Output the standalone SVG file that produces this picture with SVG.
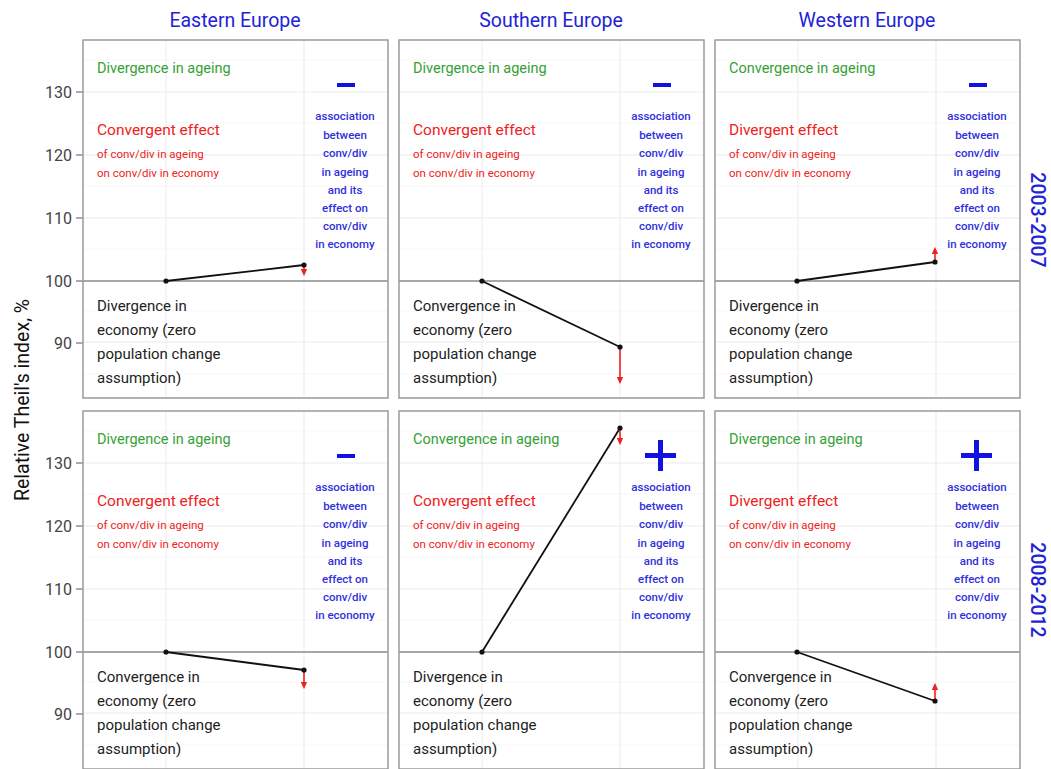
<svg xmlns="http://www.w3.org/2000/svg" width="1051" height="769" viewBox="0 0 1051 769">
<defs>
<marker id="ah" viewBox="0 0 10 10" refX="7" refY="5" markerWidth="7" markerHeight="7" orient="auto-start-reverse" markerUnits="userSpaceOnUse">
<path d="M0,0.5 L10,5 L0,9.5 z" fill="#ee2020"/>
</marker>
<style>
.bg{fill:#fff;stroke:none}
.frame{fill:none;stroke:#9a9a9a;stroke-width:1.5}
.gmaj{stroke:#ebebeb;stroke-width:1}
.gmin{stroke:#f5f5f5;stroke-width:0.8}
.ref{stroke:#8a8a8a;stroke-width:1.6}
.tick{stroke:#555;stroke-width:1}
.tl{font-family:Roboto,"Liberation Sans",sans-serif;font-size:16px;fill:#444;text-anchor:end}
.title{font-family:Roboto,"Liberation Sans",sans-serif;font-size:19.5px;fill:#2323d6;text-anchor:middle}
.strip{font-family:Roboto,"Liberation Sans",sans-serif;font-size:19.5px;font-weight:500;fill:#2323d6;text-anchor:middle}
.axt{font-family:Roboto,"Liberation Sans",sans-serif;font-size:19.5px;fill:#111;text-anchor:middle}
.grn{font-family:Roboto,"Liberation Sans",sans-serif;font-size:14.5px;fill:#35a035}
.red1{font-family:Roboto,"Liberation Sans",sans-serif;font-size:15.5px;fill:#ee2222}
.red2{font-family:Roboto,"Liberation Sans",sans-serif;font-size:11.5px;fill:#ee2222}
.blu{font-family:Roboto,"Liberation Sans",sans-serif;font-size:11.5px;font-weight:500;fill:#3030dd;text-anchor:middle}
.blk{font-family:Roboto,"Liberation Sans",sans-serif;font-size:15px;fill:#222}
.sign{fill:#1212e0}
.ln{stroke:#111;stroke-width:1.8;fill:none}
.pt{fill:#111}
.arr{stroke:#ee2020;stroke-width:1.6;fill:none;marker-end:url(#ah)}
</style>
<g id="panelbase">
<rect class="bg" x="0" y="0" width="305" height="358"/>
<line class="gmin" x1="0" y1="20" x2="305" y2="20"/>
<line class="gmin" x1="0" y1="83" x2="305" y2="83"/>
<line class="gmin" x1="0" y1="146" x2="305" y2="146"/>
<line class="gmin" x1="0" y1="209" x2="305" y2="209"/>
<line class="gmin" x1="0" y1="271" x2="305" y2="271"/>
<line class="gmin" x1="0" y1="334" x2="305" y2="334"/>
<line class="gmaj" x1="0" y1="52" x2="305" y2="52"/>
<line class="gmaj" x1="0" y1="115" x2="305" y2="115"/>
<line class="gmaj" x1="0" y1="178" x2="305" y2="178"/>
<line class="gmaj" x1="0" y1="302" x2="305" y2="302"/>
<line class="gmaj" x1="83" y1="0" x2="83" y2="358"/>
<line class="gmaj" x1="221" y1="0" x2="221" y2="358"/>
<line class="ref" x1="0" y1="241" x2="305" y2="241"/>
<rect class="frame" x="0" y="0" width="305" height="358"/>
</g>
</defs>
<rect width="1051" height="769" fill="#fff"/>
<!-- strip titles -->
<text class="title" x="235" y="27">Eastern Europe</text>
<text class="title" x="551" y="27">Southern Europe</text>
<text class="title" x="867" y="27">Western Europe</text>
<text class="strip" transform="translate(1031,220) rotate(90)">2003-2007</text>
<text class="strip" transform="translate(1031,590) rotate(90)">2008-2012</text>
<text class="axt" transform="translate(29,400) rotate(-90)">Relative Theil's index, %</text>
<!-- y axis ticks -->
<g id="axis">
<line class="tick" x1="76" y1="92" x2="83" y2="92"/><text class="tl" x="72" y="97.5">130</text>
<line class="tick" x1="76" y1="155" x2="83" y2="155"/><text class="tl" x="72" y="160.5">120</text>
<line class="tick" x1="76" y1="218" x2="83" y2="218"/><text class="tl" x="72" y="223.5">110</text>
<line class="tick" x1="76" y1="281" x2="83" y2="281"/><text class="tl" x="72" y="286.5">100</text>
<line class="tick" x1="76" y1="343" x2="83" y2="343"/><text class="tl" x="72" y="348.5">90</text>
<line class="tick" x1="76" y1="463" x2="83" y2="463"/><text class="tl" x="72" y="468.5">130</text>
<line class="tick" x1="76" y1="526" x2="83" y2="526"/><text class="tl" x="72" y="531.5">120</text>
<line class="tick" x1="76" y1="589" x2="83" y2="589"/><text class="tl" x="72" y="594.5">110</text>
<line class="tick" x1="76" y1="652" x2="83" y2="652"/><text class="tl" x="72" y="657.5">100</text>
<line class="tick" x1="76" y1="714" x2="83" y2="714"/><text class="tl" x="72" y="719.5">90</text>
</g>
<!-- panels -->
<g id="p-east-0307" transform="translate(83,40)">
<use href="#panelbase"/>
<text class="grn" x="14" y="33">Divergence in ageing</text>
<text class="red1" x="14" y="95">Convergent effect</text>
<text class="red2" x="14" y="118">of conv/div in ageing</text>
<text class="red2" x="14" y="137">on conv/div in economy</text>
<rect class="sign" x="254" y="43" width="18" height="4"/>
<g class="blu"><text x="262" y="80">association</text><text x="262" y="99">between</text><text x="262" y="117">conv/div</text><text x="262" y="136">in ageing</text><text x="262" y="154">and its</text><text x="262" y="172">effect on</text><text x="262" y="190">conv/div</text><text x="262" y="208">in economy</text></g>
<text class="blk" x="14" y="271">Divergence in</text>
<text class="blk" x="14" y="295">economy (zero</text>
<text class="blk" x="14" y="319">population change</text>
<text class="blk" x="14" y="343">assumption)</text>
</g>
<g id="p-south-0307" transform="translate(399,40)">
<use href="#panelbase"/>
<text class="grn" x="14" y="33">Divergence in ageing</text>
<text class="red1" x="14" y="95">Convergent effect</text>
<text class="red2" x="14" y="118">of conv/div in ageing</text>
<text class="red2" x="14" y="137">on conv/div in economy</text>
<rect class="sign" x="254" y="43" width="18" height="4"/>
<g class="blu"><text x="262" y="80">association</text><text x="262" y="99">between</text><text x="262" y="117">conv/div</text><text x="262" y="136">in ageing</text><text x="262" y="154">and its</text><text x="262" y="172">effect on</text><text x="262" y="190">conv/div</text><text x="262" y="208">in economy</text></g>
<text class="blk" x="14" y="271">Convergence in</text>
<text class="blk" x="14" y="295">economy (zero</text>
<text class="blk" x="14" y="319">population change</text>
<text class="blk" x="14" y="343">assumption)</text>
</g>
<g id="p-west-0307" transform="translate(715,40)">
<use href="#panelbase"/>
<text class="grn" x="14" y="33">Convergence in ageing</text>
<text class="red1" x="14" y="95">Divergent effect</text>
<text class="red2" x="14" y="118">of conv/div in ageing</text>
<text class="red2" x="14" y="137">on conv/div in economy</text>
<rect class="sign" x="254" y="43" width="18" height="4"/>
<g class="blu"><text x="262" y="80">association</text><text x="262" y="99">between</text><text x="262" y="117">conv/div</text><text x="262" y="136">in ageing</text><text x="262" y="154">and its</text><text x="262" y="172">effect on</text><text x="262" y="190">conv/div</text><text x="262" y="208">in economy</text></g>
<text class="blk" x="14" y="271">Divergence in</text>
<text class="blk" x="14" y="295">economy (zero</text>
<text class="blk" x="14" y="319">population change</text>
<text class="blk" x="14" y="343">assumption)</text>
</g>
<g id="p-east-0812" transform="translate(83,411)">
<use href="#panelbase"/>
<text class="grn" x="14" y="33">Divergence in ageing</text>
<text class="red1" x="14" y="95">Convergent effect</text>
<text class="red2" x="14" y="118">of conv/div in ageing</text>
<text class="red2" x="14" y="137">on conv/div in economy</text>
<rect class="sign" x="254" y="43" width="18" height="4"/>
<g class="blu"><text x="262" y="80">association</text><text x="262" y="99">between</text><text x="262" y="117">conv/div</text><text x="262" y="136">in ageing</text><text x="262" y="154">and its</text><text x="262" y="172">effect on</text><text x="262" y="190">conv/div</text><text x="262" y="208">in economy</text></g>
<text class="blk" x="14" y="271">Convergence in</text>
<text class="blk" x="14" y="295">economy (zero</text>
<text class="blk" x="14" y="319">population change</text>
<text class="blk" x="14" y="343">assumption)</text>
</g>
<g id="p-south-0812" transform="translate(399,411)">
<use href="#panelbase"/>
<text class="grn" x="14" y="33">Convergence in ageing</text>
<text class="red1" x="14" y="95">Convergent effect</text>
<text class="red2" x="14" y="118">of conv/div in ageing</text>
<text class="red2" x="14" y="137">on conv/div in economy</text>
<rect class="sign" x="246" y="42" width="31" height="5"/><rect class="sign" x="259" y="29" width="5" height="31"/>
<g class="blu"><text x="262" y="80">association</text><text x="262" y="99">between</text><text x="262" y="117">conv/div</text><text x="262" y="136">in ageing</text><text x="262" y="154">and its</text><text x="262" y="172">effect on</text><text x="262" y="190">conv/div</text><text x="262" y="208">in economy</text></g>
<text class="blk" x="14" y="271">Divergence in</text>
<text class="blk" x="14" y="295">economy (zero</text>
<text class="blk" x="14" y="319">population change</text>
<text class="blk" x="14" y="343">assumption)</text>
</g>
<g id="p-west-0812" transform="translate(715,411)">
<use href="#panelbase"/>
<text class="grn" x="14" y="33">Divergence in ageing</text>
<text class="red1" x="14" y="95">Divergent effect</text>
<text class="red2" x="14" y="118">of conv/div in ageing</text>
<text class="red2" x="14" y="137">on conv/div in economy</text>
<rect class="sign" x="246" y="42" width="31" height="5"/><rect class="sign" x="259" y="29" width="5" height="31"/>
<g class="blu"><text x="262" y="80">association</text><text x="262" y="99">between</text><text x="262" y="117">conv/div</text><text x="262" y="136">in ageing</text><text x="262" y="154">and its</text><text x="262" y="172">effect on</text><text x="262" y="190">conv/div</text><text x="262" y="208">in economy</text></g>
<text class="blk" x="14" y="271">Convergence in</text>
<text class="blk" x="14" y="295">economy (zero</text>
<text class="blk" x="14" y="319">population change</text>
<text class="blk" x="14" y="343">assumption)</text>
</g>
<!-- connectors -->
<g id="connectors">
<line class="ln" x1="166" y1="281" x2="304" y2="265"/>
<line class="arr" x1="304" y1="266" x2="304" y2="274"/>
<circle class="pt" cx="166" cy="281" r="2.6"/><circle class="pt" cx="304" cy="265" r="2.6"/>
<line class="ln" x1="482" y1="281" x2="620" y2="347"/>
<line class="arr" x1="620" y1="348" x2="620" y2="382"/>
<circle class="pt" cx="482" cy="281" r="2.6"/><circle class="pt" cx="620" cy="347" r="2.6"/>
<line class="ln" x1="797" y1="281" x2="935" y2="262"/>
<line class="arr" x1="935" y1="261" x2="935" y2="249"/>
<circle class="pt" cx="797" cy="281" r="2.6"/><circle class="pt" cx="935" cy="262" r="2.6"/>
<line class="ln" x1="166" y1="652" x2="304" y2="670"/>
<line class="arr" x1="304" y1="671" x2="304" y2="687"/>
<circle class="pt" cx="166" cy="652" r="2.6"/><circle class="pt" cx="304" cy="670" r="2.6"/>
<line class="ln" x1="482" y1="652" x2="620" y2="428"/>
<line class="arr" x1="620" y1="429" x2="620" y2="443"/>
<circle class="pt" cx="482" cy="652" r="2.6"/><circle class="pt" cx="620" cy="428" r="2.6"/>
<line class="ln" x1="797" y1="652" x2="935" y2="701"/>
<line class="arr" x1="935" y1="700" x2="935" y2="685"/>
<circle class="pt" cx="797" cy="652" r="2.6"/><circle class="pt" cx="935" cy="701" r="2.6"/>
</g>
</svg>
